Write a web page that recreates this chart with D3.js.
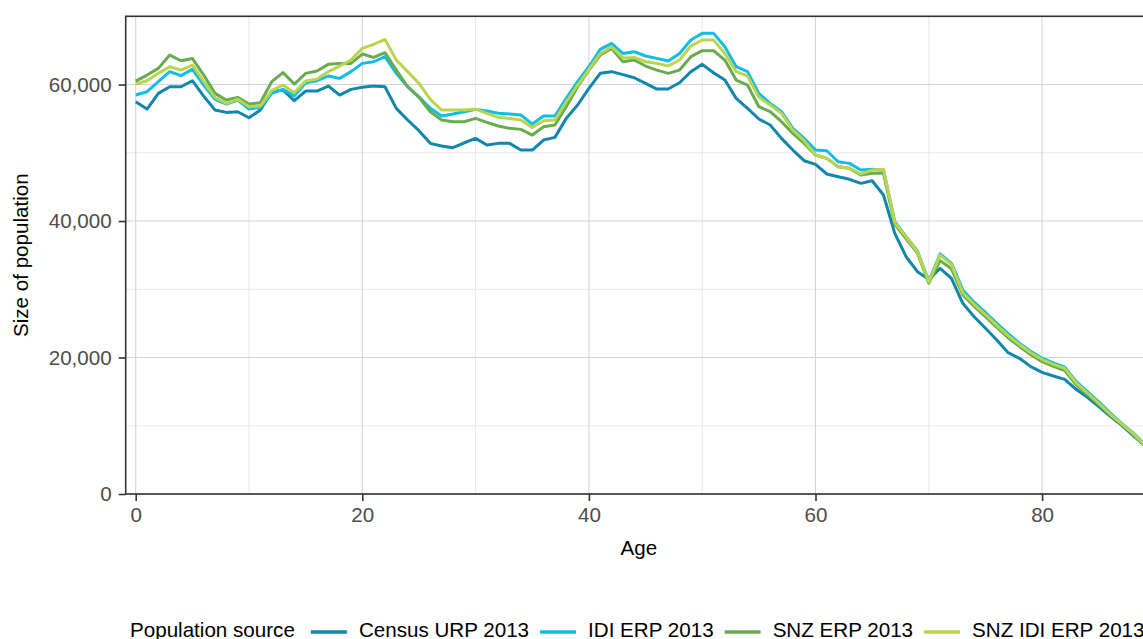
<!DOCTYPE html>
<meta charset="utf-8">
<script src="https://d3js.org/d3.v7.min.js"></script>
<style>
body { margin: 0; background: #fff; overflow: hidden; }
svg text { font-family: "Liberation Sans", Arial, sans-serif; }
.axis path { display: none; }
.axis line { stroke: #333; stroke-width: 1.6px; }
.axis text { fill: #4d4d4d; }
.grid-major { stroke: #d4d4d4; stroke-width: 1.1px; }
.grid-minor { stroke: #e2e2e2; stroke-width: 0.8px; }
.title { fill: #000; font-size: 20.6px; }
</style>
<body></body>
<script>

// ages 0..89
var ages = d3.range(0, 90);

var seriesNames = ["Census URP 2013", "IDI ERP 2013", "SNZ ERP 2013", "SNZ IDI ERP 2013"];
var seriesColors = ["#1087ad", "#0fbde6", "#68ac4f", "#bad54d"];

var censusURP = [
  57480, 56410, 58710, 59680, 59680, 60560, 58310, 56260, 55920, 56020,
  55140, 56260, 58950, 59190, 57630, 59050, 59050, 59780, 58460, 59290,
  59590, 59780, 59680, 56510, 54800, 53240, 51380, 50990, 50740, 51470,
  52110, 51140, 51380, 51380, 50400, 50400, 51870, 52260, 55040, 57000,
  59440, 61640, 61890, 61450, 61000, 60170, 59340, 59340, 60270, 61890,
  62960, 61740, 60660, 57970, 56510, 54950, 54070, 52110, 50400, 48840,
  48300, 46890, 46500, 46110, 45520, 45910, 43810, 38190, 34770, 32580,
  31450, 33070, 31600, 27940, 25980, 24280, 22560, 20710, 19880, 18660,
  17830, 17290, 16800, 15340, 14160, 12790, 11430, 10110, 8640, 7180
];

var idiERP = [
  58460, 58950, 60420, 61890, 61300, 62230, 59930, 57830, 57140, 57730,
  56410, 56650, 58710, 59290, 58310, 60270, 60560, 61250, 60900, 61890,
  63100, 63340, 64080, 61640, 59680, 58210, 56510, 55380, 55680, 56020,
  56360, 56120, 55780, 55680, 55530, 54210, 55380, 55380, 57970, 60420,
  62610, 65150, 66030, 64560, 64810, 64180, 63830, 63440, 64560, 66520,
  67500, 67500, 65540, 62610, 61890, 58710, 57240, 56020, 53580, 52110,
  50400, 50300, 48690, 48450, 47470, 47570, 47450, 39900, 37700, 35600,
  31200, 35200, 33800, 29900, 28100, 26600, 25000, 23500, 22100, 20900,
  19900, 19200, 18600, 16500, 15000, 13500, 11900, 10400, 9000, 7400
];

var snzERP = [
  60510, 61390, 62370, 64320, 63490, 63830, 61390, 58710, 57730, 58120,
  57140, 57340, 60420, 61740, 60070, 61640, 61980, 62960, 63100, 63100,
  64470, 63980, 64670, 62120, 59680, 58120, 56020, 54800, 54550, 54550,
  55040, 54460, 53920, 53580, 53430, 52600, 53820, 54070, 56750, 59680,
  62120, 64320, 65300, 63340, 63590, 62710, 62120, 61640, 62120, 64080,
  64960, 64960, 63590, 60660, 59930, 56750, 56020, 54550, 52850, 51380,
  49670, 49180, 47960, 47720, 46740, 47000, 47000, 39500, 37400, 35300,
  30900, 34200, 33000, 29200, 27500, 26000, 24400, 22900, 21600, 20400,
  19400, 18700, 18100, 16000, 14600, 13100, 11600, 10200, 8800, 7200
];

var snzIdiERP = [
  60070, 60560, 61640, 62610, 62120, 62860, 60420, 58120, 57240, 57830,
  56750, 56850, 59100, 59930, 58800, 60510, 60810, 61890, 62710, 63590,
  65300, 65890, 66620, 63590, 61890, 60170, 57830, 56260, 56260, 56260,
  56410, 55780, 55190, 55040, 54800, 53720, 54700, 54800, 57480, 59930,
  62220, 64560, 65540, 63900, 63980, 63340, 63100, 62710, 63590, 65640,
  66520, 66520, 64560, 61890, 61250, 58120, 57000, 55780, 53330, 51770,
  49670, 49180, 47960, 47720, 46890, 47470, 47570, 39750, 37700, 35500,
  31100, 35000, 33600, 29500, 27800, 26300, 24700, 23200, 21900, 20700,
  19700, 19000, 18400, 16300, 14800, 13300, 11700, 10300, 8900, 7300
];

var xTicks = [0, 20, 40, 60, 80];
var xMinor = [10, 30, 50, 70];
var yTicks = [0, 20000, 40000, 60000];
var yMinor = [10000, 30000, 50000, 70000];

var seriesValues = [censusURP, idiERP, snzERP, snzIdiERP];

var W = 1143, H = 639;
var panel = {left: 125.7, top: 16.3, right: 1152, bottom: 494};

var svg = d3.select("body").append("svg")
    .attr("width", W)
    .attr("height", H);

var x = d3.scaleLinear()
  .domain([-0.883, 89.7])
  .range([panel.left, panel.right]);

var y = d3.scaleLinear()
  .domain([0, 70000])
  .range([panel.bottom, panel.top]);

// gridlines
var grid = svg.append("g");
grid.selectAll(".xminor").data(xMinor).enter().append("line")
  .attr("class", "grid-minor")
  .attr("x1", d => x(d)).attr("x2", d => x(d))
  .attr("y1", panel.top).attr("y2", panel.bottom);
grid.selectAll(".yminor").data(yMinor).enter().append("line")
  .attr("class", "grid-minor")
  .attr("y1", d => y(d)).attr("y2", d => y(d))
  .attr("x1", panel.left).attr("x2", panel.right);
grid.selectAll(".xmajor").data(xTicks).enter().append("line")
  .attr("class", "grid-major")
  .attr("x1", d => x(d)).attr("x2", d => x(d))
  .attr("y1", panel.top).attr("y2", panel.bottom);
grid.selectAll(".ymajor").data(yTicks).enter().append("line")
  .attr("class", "grid-major")
  .attr("y1", d => y(d)).attr("y2", d => y(d))
  .attr("x1", panel.left).attr("x2", panel.right);

// lines
var line = d3.line()
  .x(function(d, i) { return x(ages[i]); })
  .y(function(d) { return y(d); });

svg.append("g").selectAll("path")
  .data(seriesValues).enter().append("path")
  .attr("d", line)
  .attr("fill", "none")
  .attr("stroke", (d, i) => seriesColors[i])
  .attr("stroke-width", 3)
  .attr("stroke-linejoin", "round");

// panel border
svg.append("rect")
  .attr("x", panel.left).attr("y", panel.top)
  .attr("width", panel.right - panel.left)
  .attr("height", panel.bottom - panel.top)
  .attr("fill", "none")
  .attr("stroke", "#333")
  .attr("stroke-width", 1.6);

// axes
var xAxis = d3.axisBottom(x).tickValues(xTicks).tickSize(7).tickPadding(6);
var yAxis = d3.axisLeft(y).tickValues(yTicks).tickSize(7).tickPadding(7)
  .tickFormat(d3.format(","));

svg.append("g")
  .attr("class", "x axis")
  .attr("transform", "translate(0," + panel.bottom + ")")
  .call(xAxis);

svg.append("g")
  .attr("class", "y axis")
  .attr("transform", "translate(" + panel.left + ",0)")
  .call(yAxis);

svg.selectAll(".axis text")
  .attr("font-size", 20.6)
  .style("font-family", "'Liberation Sans', Arial, sans-serif");

// axis titles
svg.append("text")
  .attr("class", "title")
  .attr("x", (panel.left + panel.right) / 2)
  .attr("y", 555)
  .attr("text-anchor", "middle")
  .text("Age");

svg.append("text")
  .attr("class", "title")
  .attr("transform", "translate(28," + ((panel.top + panel.bottom) / 2) + ") rotate(-90)")
  .attr("text-anchor", "middle")
  .text("Size of population");

// legend
var legend = svg.append("g");
var legY = 637;
var legTitle = legend.append("text")
  .attr("class", "title")
  .attr("x", 130)
  .attr("y", legY)
  .text("Population source");

var cursor = 130 + legTitle.node().getComputedTextLength() + 16;
seriesNames.forEach(function(name, i) {
  legend.append("line")
    .attr("x1", cursor).attr("x2", cursor + 36)
    .attr("y1", legY - 5).attr("y2", legY - 5)
    .attr("stroke", seriesColors[i])
    .attr("stroke-width", 3.5);
  var t = legend.append("text")
    .attr("class", "title")
    .attr("x", cursor + 48)
    .attr("y", legY)
    .text(name);
  cursor += 48 + t.node().getComputedTextLength() + 11;
});

</script>
